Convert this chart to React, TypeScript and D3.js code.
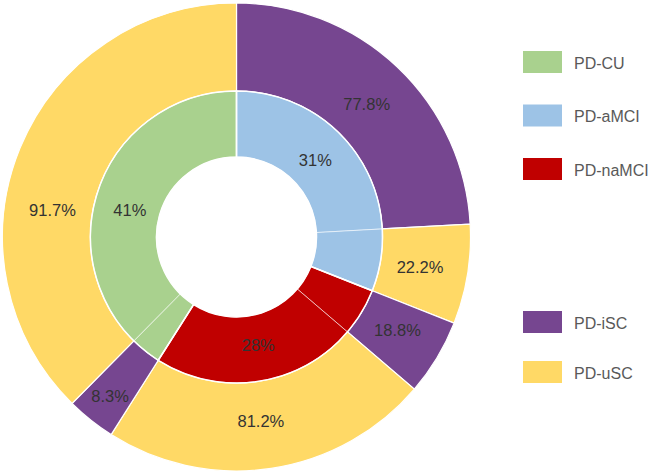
import * as d3 from "d3";

const groups = ["PD-aMCI", "PD-naMCI", "PD-CU"];
const groupValues = [31, 28, 41];
const groupColors = ["#9DC3E6", "#C00000", "#A9D18E"];

const subNames = ["PD-iSC", "PD-uSC"];
const subColors = ["#764690", "#FFD966"];
const iscShare = [77.8, 18.8, 8.3];
const uscShare = [22.2, 81.2, 91.7];

const legendTop = ["PD-CU", "PD-aMCI", "PD-naMCI"];

// label angle nudges (degrees) so text sits where the original had it
const innerNudge = [-10, 6.6, -2];
const outerNudge = [1, 0, -1, 1, 0, -14];

const W = 649;
const H = 474;
const CX = 236.5;
const CY = 237;
const R0 = 80;
const R1 = 146;
const R2 = 234;
const FONT = "'Liberation Sans', Arial, sans-serif";

const toRad = (d: number) => (d * Math.PI) / 180;

export default function App() {
  const pie = d3.pie<number>().sort(null).value((d) => d);
  const groupArcs = pie(groupValues);

  const inner = d3.arc<any>().innerRadius(R0).outerRadius(R1);
  const outer = d3.arc<any>().innerRadius(R1).outerRadius(R2);

  // split each group into iSC / uSC sub-slices
  const subs: { start: number; end: number; color: string; value: number; group: number }[] = [];
  groupArcs.forEach((g, i) => {
    const span = g.endAngle - g.startAngle;
    const mid = g.startAngle + (span * iscShare[i]) / 100;
    subs.push({ start: g.startAngle, end: mid, color: subColors[0], value: iscShare[i], group: i });
    subs.push({ start: mid, end: g.endAngle, color: subColors[1], value: uscShare[i], group: i });
  });

  const labelAt = (a0: number, a1: number, r: number, nudge: number) => {
    const a = (a0 + a1) / 2 + toRad(nudge);
    return [r * Math.sin(a), -r * Math.cos(a)];
  };

  const legendColor: Record<string, string> = {};
  groups.forEach((g, i) => (legendColor[g] = groupColors[i]));
  subNames.forEach((s, i) => (legendColor[s] = subColors[i]));

  const topY = d3.scaleLinear().domain([0, 2]).range([51, 158]);
  const botY = d3.scaleLinear().domain([0, 1]).range([311, 361]);

  return (
    <div style={{ position: "absolute", left: 0, top: 0 }}>
      <svg width={W} height={H} style={{ display: "block", background: "#fff" }}>
        <g transform={`translate(${CX},${CY})`}>
          {subs.map((s, i) => (
            <path
              key={"o" + i}
              d={outer({ startAngle: s.start, endAngle: s.end }) as string}
              fill={s.color}
              stroke="#fff"
              strokeWidth={1.2}
            />
          ))}
          {subs.map((s, i) => (
            <path
              key={"is" + i}
              d={inner({ startAngle: s.start, endAngle: s.end }) as string}
              fill={groupColors[s.group]}
              stroke="rgba(255,255,255,0.55)"
              strokeWidth={1}
            />
          ))}
          {groupArcs.map((g, i) => (
            <path
              key={"ig" + i}
              d={inner({ startAngle: g.startAngle, endAngle: g.endAngle }) as string}
              fill="none"
              stroke="#fff"
              strokeWidth={1.5}
            />
          ))}
          {groupArcs.map((g, i) => {
            const [x, y] = labelAt(g.startAngle, g.endAngle, 110, innerNudge[i]);
            return (
              <text
                key={"il" + i}
                x={x}
                y={y}
                textAnchor="middle"
                dominantBaseline="central"
                fontFamily={FONT}
                fontSize={16.5}
                fill="#333"
              >
                {groupValues[i]}%
              </text>
            );
          })}
          {subs.map((s, i) => {
            const [x, y] = labelAt(s.start, s.end, s.value < 10 ? 203 : 186, outerNudge[i]);
            return (
              <text
                key={"ol" + i}
                x={x}
                y={y}
                textAnchor="middle"
                dominantBaseline="central"
                fontFamily={FONT}
                fontSize={16.5}
                fill="#333"
              >
                {s.value}%
              </text>
            );
          })}
        </g>
        {legendTop.map((name, i) => (
          <g key={name} transform={`translate(523,${topY(i)})`}>
            <rect width={39} height={22} fill={legendColor[name]} />
            <text x={51} y={12} dominantBaseline="central" fontFamily={FONT} fontSize={16} fill="#595959">
              {name}
            </text>
          </g>
        ))}
        {subNames.map((name, i) => (
          <g key={name} transform={`translate(523,${botY(i)})`}>
            <rect width={39} height={22} fill={legendColor[name]} />
            <text x={51} y={12} dominantBaseline="central" fontFamily={FONT} fontSize={16} fill="#595959">
              {name}
            </text>
          </g>
        ))}
      </svg>
    </div>
  );
}
